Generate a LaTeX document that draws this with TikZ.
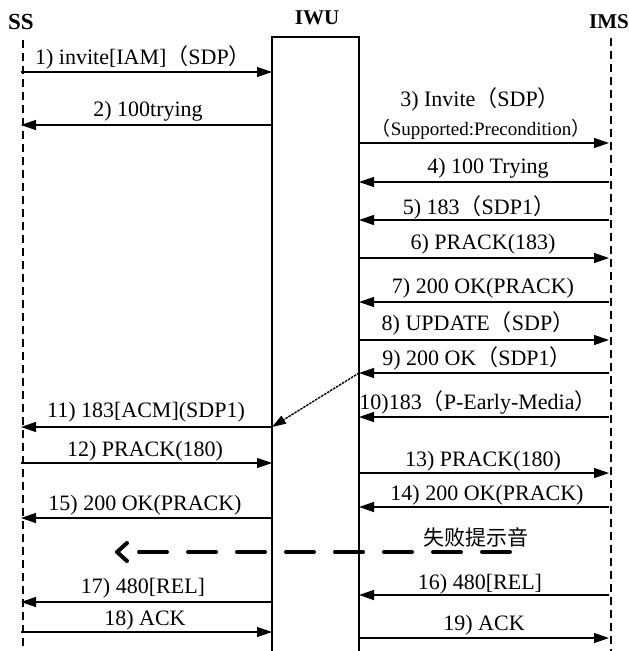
\documentclass[tikz,border=0pt]{standalone}
\usepackage{fontspec}
\setmainfont{Liberation Serif}
\newfontfamily\cjk{Noto Sans CJK SC}
\usetikzlibrary{arrows.meta}
\newcommand{\lpar}{{\cjk （}}
\newcommand{\rpar}{{\cjk ）}}
\begin{document}
\begin{tikzpicture}[x=1pt,y=-1pt,
  lbl/.style={font=\fontsize{22}{24}\selectfont, inner sep=0pt},
  sml/.style={font=\fontsize{19}{21}\selectfont, inner sep=0pt},
  hdr/.style={font=\bfseries\fontsize{21}{23}\selectfont, inner sep=0pt},
  msg/.style={line width=1.3pt, -{Triangle[length=15pt,width=10pt]}},
  life/.style={line width=1.1pt, dash pattern=on 8pt off 5pt},
  box/.style={line width=1.3pt},
  hint/.style={line width=4pt, dash pattern=on 28pt off 21pt, line cap=round},
  chev/.style={line width=4pt, line cap=round, line join=round},
  diag/.style={line width=1.4pt, dash pattern=on 2.5pt off 1pt, -{Triangle[length=14pt,width=9pt]}}]
\useasboundingbox (0,0) rectangle (629,651);

% headers
\node[hdr,font=\bfseries\fontsize{23}{25}\selectfont] (hSS)  at (21,22) {SS};
\node[hdr] (hIWU) at (317,18) {IWU};
\node[hdr] (hIMS) at (609,22) {IMS};

% lifelines
\coordinate (ssTop) at (23,40);
\coordinate (ssBot) at (23,651);
\coordinate (imsTop) at (611,38);
\coordinate (imsBot) at (611,651);
\draw[life] (ssTop) -- (ssBot);
\draw[life] (imsTop) -- (imsBot);

% IWU box
\coordinate (wTL) at (272,37);
\coordinate (wTR) at (359,37);
\coordinate (wBL) at (272,652);
\coordinate (wBR) at (359,652);
\draw[box] (wBL) -- (wTL) -- (wTR) -- (wBR);

% message levels
\foreach \n/\y in {1/72,2/125,3/143,4/182,5/220,6/258,7/302,8/340,9/373,10/417,
                   11/427,12/463,13/473,14/507,15/518,16/595,17/602,18/632,19/638}{
  \coordinate (S\n) at (21,\y);
  \coordinate (L\n) at (272,\y);
  \coordinate (R\n) at (359,\y);
  \coordinate (I\n) at (609,\y);
}

% SS <-> IWU
\draw[msg] (S1) -- (L1);
\draw[msg] (L2) -- (S2);
\draw[msg] (L11) -- (S11);
\draw[msg] (S12) -- (L12);
\draw[msg] (L15) -- (S15);
\draw[msg] (L17) -- (S17);
\draw[msg] (S18) -- (L18);

% IWU <-> IMS
\draw[msg] (R3) -- (I3);
\draw[msg] (I4) -- (R4);
\draw[msg] (I5) -- (R5);
\draw[msg] (R6) -- (I6);
\draw[msg] (I7) -- (R7);
\draw[msg] (R8) -- (I8);
\draw[msg] (I9) -- (R9);
\draw[msg] (I10) -- (R10);
\draw[msg] (R13) -- (I13);
\draw[msg] (I14) -- (R14);
\draw[msg] (I16) -- (R16);
\draw[msg] (R19) -- (I19);

% diagonal relay 9 -> 11
\draw[diag] (R9) -- (L11);

% failure tone
\coordinate (tR) at (510,552);
\coordinate (tL) at (138,552);
\coordinate (cT) at (127,543);
\coordinate (cM) at (117,552);
\coordinate (cB) at (127,561);
\draw[hint] (tR) -- (tL);
\draw[chev] (cT) -- (cM) -- (cB);

% labels
\node[lbl] (t1)  at (143,57)  {1) invite[IAM]\lpar SDP\rpar};
\node[lbl] (t2)  at (148,111) {2) 100trying};
\node[lbl] (t3)  at (480,99)  {3) Invite\lpar SDP\rpar};
\node[sml] (t3b) at (481,129) {\lpar Supported:Precondition\rpar};
\node[lbl] (t4)  at (488,168) {4) 100 Trying};
\node[lbl] (t5)  at (479,207) {5) 183\lpar SDP1\rpar};
\node[lbl] (t6)  at (483,244) {6) PRACK(183)};
\node[lbl] (t7)  at (483,288) {7) 200 OK(PRACK)};
\node[lbl] (t8)  at (478,323) {8) UPDATE\lpar SDP\rpar};
\node[lbl] (t9)  at (477,358) {9) 200 OK\lpar SDP1\rpar};
\node[lbl] (t10) at (478,402) {10)183\lpar P-Early-Media\rpar};
\node[lbl] (t11) at (146,412) {11) 183[ACM](SDP1)};
\node[lbl] (t12) at (145,451) {12) PRACK(180)};
\node[lbl] (t13) at (483,461) {13) PRACK(180)};
\node[lbl] (t14) at (487,495) {14) 200 OK(PRACK)};
\node[lbl] (t15) at (145,505) {15) 200 OK(PRACK)};
\node[lbl,font=\cjk\fontsize{21}{23}\selectfont] (t0) at (476,537) {失败提示音};
\node[lbl] (t16) at (480,584) {16) 480[REL]};
\node[lbl] (t17) at (143,588) {17) 480[REL]};
\node[lbl] (t18) at (145,620) {18) ACK};
\node[lbl] (t19) at (484,625) {19) ACK};
\end{tikzpicture}
\end{document}
